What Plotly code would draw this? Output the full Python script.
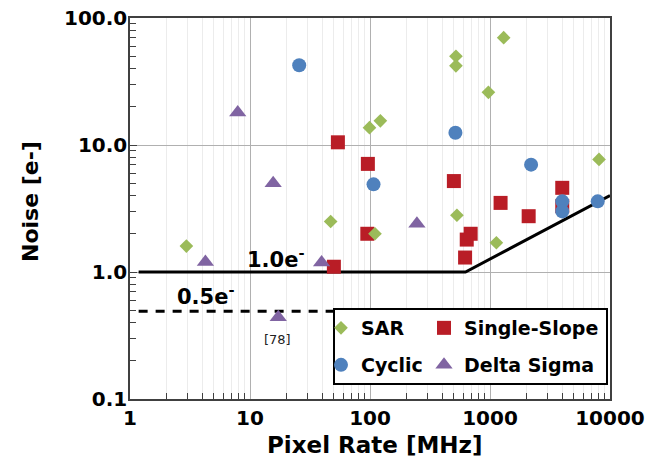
import plotly.graph_objects as go

# ---- data ----
sar_x = [2.95, 47, 99, 110, 122, 520, 520, 530, 970, 1130, 1300, 8100]
sar_y = [1.6, 2.5, 13.7, 2.0, 15.5, 50, 42, 2.8, 26, 1.7, 70, 7.7]

ss_x = [50, 54, 95, 96, 500, 620, 640, 690, 1225, 2100, 4000, 4000]
ss_y = [1.1, 10.5, 2.0, 7.1, 5.2, 1.3, 1.8, 2.0, 3.5, 2.75, 4.6, 3.3]

cyc_x = [25.7, 107, 515, 2200, 4000, 4000, 7900]
cyc_y = [42.5, 4.9, 12.5, 7.0, 3.6, 3.0, 3.6]

ds_x = [4.25, 7.9, 15.6, 17.2, 39.5, 246]
ds_y = [1.2, 18, 5.0, 0.44, 1.19, 2.4]

limit_x = [1.18, 625, 10000]
limit_y = [1.0, 1.0, 4.0]

half_x = [1.18, 150]
half_y = [0.49, 0.49]

x_ticks = [1, 10, 100, 1000, 10000]
x_ticktext = ["1", "10", "100", "1000", "10000"]
y_ticks = [0.1, 1, 10, 100]
y_ticktext = ["0.1", "1.0", "10.0", "100.0"]

FONT = "DejaVu Sans"
GREEN, BLUE, RED, PURPLE = "#9BBB59", "#4F81BD", "#B91D26", "#8064A2"

fig = go.Figure()

fig.add_trace(go.Scatter(x=limit_x, y=limit_y, mode="lines",
                         line=dict(color="black", width=3), showlegend=False, hoverinfo="skip"))
fig.add_trace(go.Scatter(x=half_x, y=half_y, mode="lines",
                         line=dict(color="black", width=3, dash="9px,8px"), showlegend=False, hoverinfo="skip"))

fig.add_trace(go.Scatter(x=ss_x, y=ss_y, mode="markers", name="Single-Slope", legend="legend2",
                         marker=dict(symbol="square", size=14, color=RED)))
fig.add_trace(go.Scatter(x=sar_x, y=sar_y, mode="markers", name="SAR", legend="legend",
                         marker=dict(symbol="diamond", size=10.5, color=GREEN)))
fig.add_trace(go.Scatter(x=cyc_x, y=cyc_y, mode="markers", name="Cyclic", legend="legend3",
                         marker=dict(symbol="circle", size=14, color=BLUE)))
fig.add_trace(go.Scatter(x=ds_x, y=ds_y, mode="markers", name="Delta Sigma", legend="legend4",
                         marker=dict(symbol="triangle-up", size=15, color=PURPLE)))

x_minor = [k * 10 ** d for d in range(4) for k in range(2, 10)]
y_minor = [k * 10 ** d for d in range(-1, 2) for k in range(2, 10)]

tick_font = dict(family=FONT, size=20, color="black", weight="bold")

fig.update_xaxes(type="log", range=[0, 4], tickmode="array", tickvals=x_ticks, ticktext=x_ticktext,
                 ticks="", showgrid=True, gridcolor="#b0b0b0", gridwidth=1, automargin=False,
                 showline=True, linecolor="#404040", linewidth=1.5, mirror=True, zeroline=False,
                 tickfont=tick_font, ticklabelstandoff=0, ticklabeloverflow="allow",
                 minor=dict(tickmode="array", tickvals=x_minor, ticks="inside", ticklen=6,
                            tickcolor="#404040", showgrid=True, gridcolor="#ececec", gridwidth=1))
fig.update_yaxes(type="log", range=[-1, 2], tickmode="array", tickvals=y_ticks, ticktext=y_ticktext,
                 ticks="inside", ticklen=7, tickcolor="#404040", automargin=False,
                 showgrid=True, gridcolor="#b0b0b0", gridwidth=1,
                 showline=True, linecolor="#404040", linewidth=1.5, mirror=True, zeroline=False,
                 tickfont=tick_font, ticklabelstandoff=-3, ticklabeloverflow="allow",
                 minor=dict(tickmode="array", tickvals=y_minor, ticks="inside", ticklen=6,
                            tickcolor="#404040", showgrid=False))

# the page's default body margin is removed after drawing (post_script), so the
# figure fills the 664x465 window exactly
W, H = 664, 465
L, T, R, B = 130, 18, 54, 66
PW, PH = W - L - R, H - T - B


def px(xp):
    return (xp - L) / PW


def py(yp):
    return (H - B - yp) / PH


leg_font = dict(family=FONT, size=19, color="black", weight="bold")


def leg(xp, yp):
    return dict(x=px(xp), y=py(yp), xanchor="left", yanchor="middle", orientation="h",
                bgcolor="rgba(0,0,0,0)", borderwidth=0, font=leg_font)


def note(text, xp, yp, size, weight="bold", angle=0, color="black"):
    return dict(text=text, xref="paper", yref="paper", x=px(xp), y=py(yp),
                xanchor="center", yanchor="middle", textangle=angle, showarrow=False,
                font=dict(family=FONT, size=size, color=color, weight=weight))


fig.update_layout(
    width=W, height=H,
    margin=dict(l=L, r=R, t=T, b=B, autoexpand=False),
    paper_bgcolor="white", plot_bgcolor="white",
    showlegend=True,
    legend=leg(321, 328),
    legend2=leg(424, 328),
    legend3=leg(321, 365),
    legend4=leg(424, 365),
    shapes=[dict(type="rect", xref="paper", yref="paper",
                 x0=px(334), x1=px(607), y0=py(384), y1=py(309),
                 line=dict(color="black", width=2), fillcolor="white", layer="above")],
    annotations=[
        note("Pixel Rate [MHz]", 374, 445, 23),
        note("Noise [e-]", 30, 202, 22, angle=-90),
        note("1.0e<sup>-</sup>", 276, 258, 21),
        note("0.5e<sup>-</sup>", 206, 295, 21),
        note("[78]", 277, 339, 13, weight="normal", color="#222222"),
    ],
)

fig.write_html("out.html", config={"displayModeBar": False},
               post_script="document.body.style.margin='0px';")
